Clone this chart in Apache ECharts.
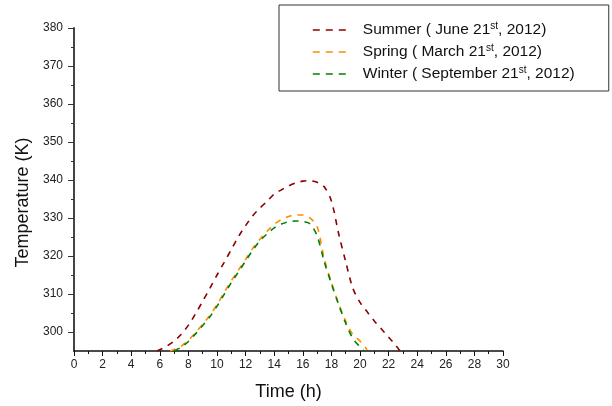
<!DOCTYPE html>
<html>
<head>
<meta charset="utf-8">
<script src="https://cdn.jsdelivr.net/npm/echarts@6/dist/echarts.min.js"></script>
<style>
  html, body { margin: 0; padding: 0; background: #fff; }
  #chart { width: 612px; height: 406px; }
</style>
</head>
<body>
<div id="chart"></div>
<script>
// data (time in h, temperature in K)
const timeSummer = [5.8, 6.5, 7, 7.5, 8, 8.5, 9, 9.5, 10, 10.5, 11, 11.5, 12, 12.5, 13, 13.5, 14, 14.5, 15, 15.5, 16, 16.5, 17, 17.5, 18, 18.5, 19, 19.5, 20, 20.5, 21, 21.5, 22, 22.5, 22.8];
const tempSummer = [295, 296.3, 297.6, 299.4, 301.8, 304.8, 308.1, 311.5, 315, 318.3, 321.7, 325.1, 328, 330.6, 332.6, 334.4, 336.3, 337.4, 338.4, 339.2, 339.7, 339.8, 339.4, 338.2, 334.5, 326, 318.5, 311.5, 307.8, 305.3, 302.9, 300.8, 298.6, 296.5, 295];

const timeSpring = [6.7, 7, 7.5, 8, 8.5, 9, 9.5, 10, 10.5, 11, 11.5, 12, 12.5, 13, 13.5, 14, 14.5, 15, 15.5, 16, 16.5, 17, 17.5, 18, 18.5, 19, 19.5, 20, 20.5];
const tempSpring = [295, 295.4, 296.3, 297.8, 299.9, 302, 304.4, 307.2, 310.4, 313.5, 316.3, 319.1, 322, 324.4, 326.5, 328.3, 329.6, 330.4, 330.8, 330.8, 330, 327.8, 319.3, 313.1, 307.5, 302.9, 299.3, 297.6, 295.3];

const timeWinter = [7, 7.5, 8, 8.5, 9, 9.5, 10, 10.5, 11, 11.5, 12, 12.5, 13, 13.5, 14, 14.5, 15, 15.5, 16, 16.5, 17, 17.5, 18, 18.5, 19, 19.5, 20, 20.3];
const tempWinter = [295, 296, 297.5, 299.5, 301.7, 304, 306.8, 309.9, 313, 315.8, 318.7, 321.5, 324, 325.8, 327.4, 328.4, 329, 329.2, 329.1, 328.5, 325.3, 318.5, 312.7, 307.3, 302.3, 298.3, 296.1, 295];

const yMajor = [300, 310, 320, 330, 340, 350, 360, 370, 380];
const yMinor = [305, 315, 325, 335, 345, 355, 365, 375];

const legendText = {
  Summer: ['Summer ( June 21', ', 2012)'],
  Spring: ['Spring ( March 21', ', 2012)'],
  Winter: ['Winter ( September 21', ', 2012)'],
};

const zip = (xs, ys) => xs.map((x, i) => [x, ys[i]]);

const chart = echarts.init(document.getElementById('chart'));

const FONT = 'Liberation Sans, Arial, sans-serif';
const axisFont = { fontFamily: FONT, fontSize: 12, color: '#222' };

function lineSeries(name, color, xs, ys) {
  return {
    name: name,
    type: 'line',
    data: zip(xs, ys),
    smooth: 0.3,
    showSymbol: false,
    symbol: 'none',
    lineStyle: { color: color, width: 1.6, type: [6, 6] },
    itemStyle: { color: color },
  };
}

const option = {
  animation: false,
  backgroundColor: '#fff',
  grid: { left: 74, right: 109, top: 28, bottom: 53 },
  legend: {
    orient: 'vertical',
    left: 279,
    top: 5,
    padding: [16, 34, 9, 33],
    borderColor: '#333',
    borderWidth: 1,
    itemWidth: 35,
    itemHeight: 14,
    itemGap: 5,
    itemStyle: { opacity: 0 },
    lineStyle: { width: 1.6, type: [7, 6] },
    data: ['Summer', 'Spring', 'Winter'],
    formatter: function (name) {
      const txt = legendText[name];
      return '{a|' + txt[0] + '}{s|st}{a|' + txt[1] + '}';
    },
    textStyle: {
      padding: [0, 0, 0, 10],
      rich: {
        a: { fontFamily: FONT, fontSize: 15.5, color: '#111', lineHeight: 18 },
        s: { fontFamily: FONT, fontSize: 10, color: '#111', verticalAlign: 'top', lineHeight: 18, padding: [0, 0, 7, 0] },
      },
    },
  },
  xAxis: {
    type: 'value',
    min: 0,
    max: 30,
    interval: 2,
    name: 'Time (h)',
    nameLocation: 'middle',
    nameGap: 32,
    nameTextStyle: { fontFamily: FONT, fontSize: 18, color: '#111' },
    axisLine: { show: true, onZero: false, lineStyle: { color: '#111', width: 1.5 } },
    axisTick: { show: true, length: 5, lineStyle: { color: '#111', width: 1 } },
    minorTick: { show: true, splitNumber: 2, length: 3, lineStyle: { color: '#111', width: 1 } },
    axisLabel: Object.assign({ margin: 8 }, axisFont),
    splitLine: { show: false },
  },
  yAxis: [
    {
      type: 'value',
      min: 295,
      max: 380,
      name: 'Temperature (K)',
      nameLocation: 'middle',
      nameRotate: 90,
      nameGap: 36,
      nameTextStyle: { fontFamily: FONT, fontSize: 18, color: '#111', padding: [0, 26, 0, 0] },
      axisLine: { show: true, onZero: false, lineStyle: { color: '#444', width: 2 } },
      axisTick: { show: true, length: 6, customValues: yMajor, lineStyle: { color: '#333', width: 1 } },
      axisLabel: Object.assign({ margin: 11, customValues: yMajor }, axisFont),
      splitLine: { show: false },
    },
    {
      type: 'value',
      min: 295,
      max: 380,
      position: 'left',
      axisLine: { show: false },
      axisTick: { show: true, length: 3, customValues: yMinor, lineStyle: { color: '#333', width: 1 } },
      axisLabel: { show: false },
      splitLine: { show: false },
    },
  ],
  series: [
    lineSeries('Summer', '#8b0000', timeSummer, tempSummer),
    lineSeries('Spring', '#ff8c00', timeSpring, tempSpring),
    lineSeries('Winter', '#008000', timeWinter, tempWinter),
  ],
};

chart.setOption(option);
</script>
</body>
</html>
